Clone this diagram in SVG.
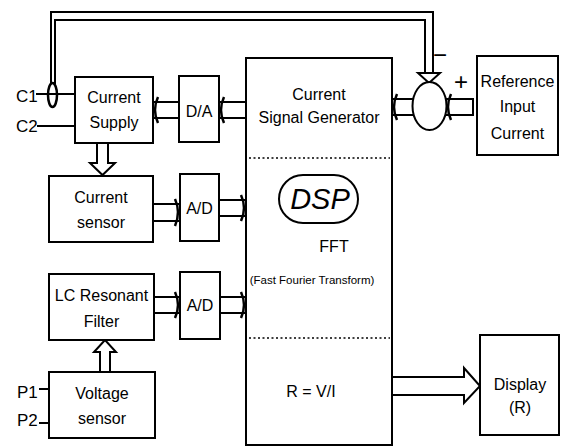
<svg xmlns="http://www.w3.org/2000/svg" width="561" height="448" viewBox="0 0 561 448">
<style>
.box{fill:#fff;stroke:#000;stroke-width:2}
.ln{fill:none;stroke:#000;stroke-width:2}
.hd{fill:none;stroke:#000;stroke-width:2.5}
.big{fill:#fff;stroke:#000;stroke-width:2;stroke-linejoin:miter}
.dot{fill:none;stroke:#000;stroke-width:1.5;stroke-dasharray:2 2.5}
text{font-family:"Liberation Sans",Arial,sans-serif;font-size:16px;fill:#000;text-anchor:middle}
text.lbl{text-anchor:start;font-size:17px}
text.dsp{font-size:29px;font-style:italic}
text.small{font-size:11.5px}
text.sign{font-size:24px}
</style>
<rect width="561" height="448" fill="#fff"/>
<g id="connectors">
  <path class="ln" d="M51,84 V12 H433 V73"/>
  <path class="ln" d="M55,84 V20 H425 V73"/>
  <polygon class="big" points="418,73 425,73 425,73 433,73 440,73 429,83"/>
  <line class="ln" x1="36" y1="94" x2="75" y2="94"/>
  <line class="ln" x1="37" y1="126" x2="75" y2="126"/>
  <line class="ln" x1="39" y1="389" x2="49" y2="389"/>
  <line class="ln" x1="39" y1="423" x2="49" y2="423"/>
  <path class="ln" d="M246,102 H220 M246,118 H220"/>
  <path class="hd" d="M224,97 Q218,110 224,123"/>
  <path class="ln" d="M179,102 H154 M179,118 H154"/>
  <path class="hd" d="M158,97 Q152,110 158,123"/>
  <path class="ln" d="M153,204 H179 M153,221 H179"/>
  <path class="hd" d="M175,199 Q181,212 175,226"/>
  <path class="ln" d="M219,200 H245 M219,216 H245"/>
  <path class="hd" d="M241,195 Q247,208 241,221"/>
  <path class="ln" d="M154,297 H179 M154,313 H179"/>
  <path class="hd" d="M175,292 Q181,305 175,318"/>
  <path class="ln" d="M220,297 H245 M220,313 H245"/>
  <path class="hd" d="M241,292 Q247,305 241,318"/>
  <path class="ln" d="M413,99 H393 M413,115 H393"/>
  <path class="hd" d="M397,94 Q391,107 397,120"/>
  <path class="ln" d="M446,99 H473 V115 H446"/>
  <path class="hd" d="M451,94 Q445,107 451,120"/>
  <polygon class="big" points="97,143 108,143 108,163 115,163 102.5,175 90,163 97,163"/>
  <polygon class="big" points="100,372 110,372 110,352 116,352 105,340 94,352 100,352"/>
  <polygon class="big" points="392,377 464,377 464,368 480,386 464,403 464,395 392,395"/>
</g>
<g id="c1-ring"><ellipse cx="52.5" cy="95" rx="4.5" ry="12" fill="none" stroke="#000" stroke-width="2.5"/></g>
<g id="labels-inputs">
  <text class="lbl" x="16" y="102">C1</text>
  <text class="lbl" x="16" y="132">C2</text>
  <text class="lbl" x="17" y="398">P1</text>
  <text class="lbl" x="17" y="426">P2</text>
</g>
<g id="current-supply">
  <rect class="box" x="75" y="77" width="78" height="66"/>
  <text x="114" y="103">Current</text>
  <text x="114" y="128">Supply</text>
</g>
<g id="da">
  <rect class="box" x="179" y="76" width="40" height="66"/>
  <text x="199" y="117">D/A</text>
</g>
<g id="current-sensor">
  <rect class="box" x="49" y="176" width="104" height="66"/>
  <text x="101" y="203">Current</text>
  <text x="101" y="228">sensor</text>
</g>
<g id="ad1">
  <rect class="box" x="180" y="174" width="39" height="67"/>
  <text x="199.5" y="214">A/D</text>
</g>
<g id="lc-filter">
  <rect class="box" x="49" y="274" width="105" height="66"/>
  <text x="101.5" y="301">LC Resonant</text>
  <text x="101.5" y="327">Filter</text>
</g>
<g id="ad2">
  <rect class="box" x="180" y="272" width="40" height="67"/>
  <text x="200" y="311">A/D</text>
</g>
<g id="voltage-sensor">
  <rect class="box" x="49" y="372" width="106" height="66"/>
  <text x="102" y="399">Voltage</text>
  <text x="102" y="424">sensor</text>
</g>
<g id="dsp-main">
  <rect class="box" x="246" y="58" width="146" height="387"/>
  <line class="dot" x1="249" y1="158" x2="390" y2="158"/>
  <line class="dot" x1="249" y1="338" x2="390" y2="338"/>
  <text x="319" y="100">Current</text>
  <text x="319" y="123">Signal Generator</text>
  <rect x="279" y="175" width="79" height="48" rx="24" ry="24" fill="none" stroke="#000" stroke-width="2"/>
  <text class="dsp" x="320" y="209">DSP</text>
  <text x="334" y="252">FFT</text>
  <text class="small" x="312" y="284">(Fast Fourier Transform)</text>
  <text x="311" y="397">R = V/I</text>
</g>
<g id="summing-junction">
  <ellipse cx="429.5" cy="106" rx="17" ry="24" fill="#fff" stroke="#000" stroke-width="2"/>
  <text class="sign" x="440" y="63">−</text>
  <text class="sign" x="461" y="90">+</text>
</g>
<g id="reference">
  <rect class="box" x="477" y="56" width="81" height="99"/>
  <text x="517.5" y="87">Reference</text>
  <text x="517.5" y="112">Input</text>
  <text x="517.5" y="139">Current</text>
</g>
<g id="display">
  <rect class="box" x="480" y="335" width="79" height="100"/>
  <text x="520" y="390">Display</text>
  <text x="520" y="413">(R)</text>
</g>
</svg>
